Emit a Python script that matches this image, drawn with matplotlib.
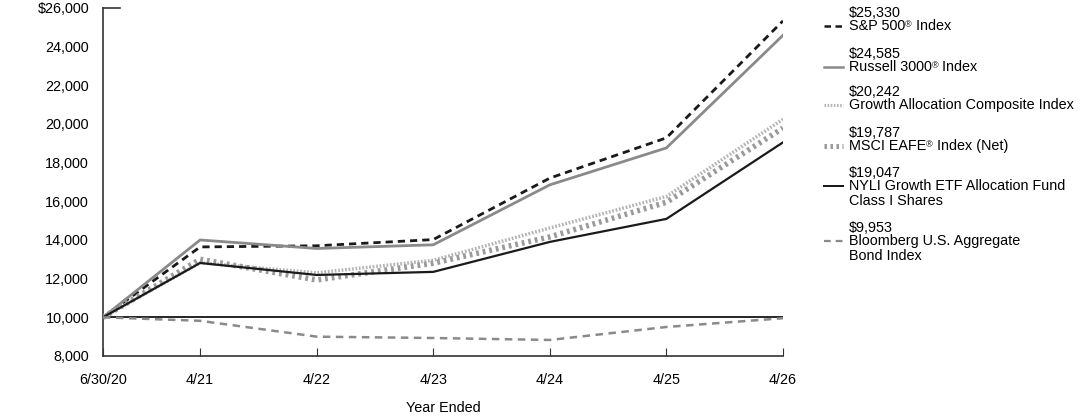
import matplotlib
matplotlib.use("Agg")
import matplotlib.pyplot as plt
from matplotlib.lines import Line2D

plt.rcParams['font.family'] = ['Liberation Sans', 'DejaVu Sans']

# months since 6/30/20 for each tick
months = [0, 10, 22, 34, 46, 58, 70]
tick_labels = ['6/30/20', '4/21', '4/22', '4/23', '4/24', '4/25', '4/26']

sp500 = [10000, 13640, 13700, 14020, 17200, 19280, 25330]
russell = [10000, 14000, 13560, 13750, 16850, 18760, 24585]
growth_comp = [10000, 12820, 12300, 12950, 14620, 16250, 20242]
msci = [10000, 13000, 11930, 12800, 14160, 15950, 19787]
fund = [10000, 12810, 12190, 12350, 13900, 15090, 19047]
bond = [10000, 9820, 9000, 8930, 8830, 9500, 9953]

# (text before mark, text after mark, extra lines); mark is a small raised ®
names = [('S&P 500', ' Index', []),
         ('Russell 3000', ' Index', []),
         ('Growth Allocation Composite Index', None, []),
         ('MSCI EAFE', ' Index (Net)', []),
         ('NYLI Growth ETF Allocation Fund', None, ['Class I Shares']),
         ('Bloomberg U.S. Aggregate', None, ['Bond Index'])]
ending = ['$25,330', '$24,585', '$20,242', '$19,787', '$19,047', '$9,953']

FS = 10.4
fig = plt.figure(figsize=(10.92, 4.17), dpi=100)
ax = fig.add_axes([0.0943, 0.1463, 0.6227, 0.8347])

styles = [
    dict(color='#1a1a1a', lw=2, dashes=(2.6, 1.8)),
    dict(color='#8a8a8a', lw=2, ls='-'),
    dict(color='#b4b4b4', lw=2.5, dashes=(0.5, 0.5)),
    dict(color='#9a9a9a', lw=4, dashes=(0.5, 0.7)),
    dict(color='#1a1a1a', lw=1.6, ls='-'),
    dict(color='#8a8a8a', lw=1.8, dashes=(3, 2.2)),
]
series = [sp500, russell, growth_comp, msci, fund, bond]
order = [5, 3, 2, 1, 0, 4]
for i in order:
    ax.plot(months, series[i], zorder=3 + i, **styles[i])

ax.axhline(10000, color='black', lw=1.2, zorder=2)

ax.set_xlim(0, 70)
ax.set_ylim(8000, 26000)
ax.set_xticks(months)
ax.set_xticklabels(tick_labels, fontsize=FS)
yt = list(range(8000, 26001, 2000))
ax.set_yticks(yt)
ax.set_yticklabels([f'{v:,}' if v < 26000 else f'${v:,}' for v in yt], fontsize=FS)
ax.tick_params(axis='y', length=0, pad=10)
ax.tick_params(axis='x', direction='in', length=6, pad=12, color='#333333')
for s in ['top', 'right']:
    ax.spines[s].set_visible(False)
for s in ['left', 'bottom']:
    ax.spines[s].set_color('#333333')
    ax.spines[s].set_linewidth(1.2)
ax.plot([0, 1.8], [26000, 26000], color='#333333', lw=1.2, clip_on=False)
ax.set_xlabel('Year Ended', fontsize=FS, labelpad=10)

# legend drawn by hand: value on top, name below
legend_y = [13, 54, 92, 133, 173, 228]
H = 417.0
W = 1092.0
x0 = 849 / W
for i in range(6):
    y0 = legend_y[i]
    fig.text(x0, 1 - y0 / H, ending[i], fontsize=FS, va='center', ha='left')
    first, rest, more = names[i]
    t1 = fig.text(x0, 1 - (y0 + 13) / H, first, fontsize=FS, va='center', ha='left')
    if rest is not None:
        mark = ax.annotate('\u00ae', xy=(1, 0.62), xycoords=t1, fontsize=6.5,
                           va='center', ha='left', annotation_clip=False)
        ax.annotate(rest, xy=(1, 0.5), xycoords=(mark, t1), fontsize=FS,
                    va='center', ha='left', annotation_clip=False)
    for k, line in enumerate(more):
        fig.text(x0, 1 - (y0 + 13 + 15 * (k + 1)) / H, line, fontsize=FS,
                 va='center', ha='left')
    ly = 1 - (y0 + 13) / H
    fig.add_artist(Line2D([824 / W, 843 / W], [ly, ly], transform=fig.transFigure,
                          **{k: (v * 0.9 if k == 'lw' else v) for k, v in styles[i].items()}))

fig.savefig('out.png', dpi=100)
